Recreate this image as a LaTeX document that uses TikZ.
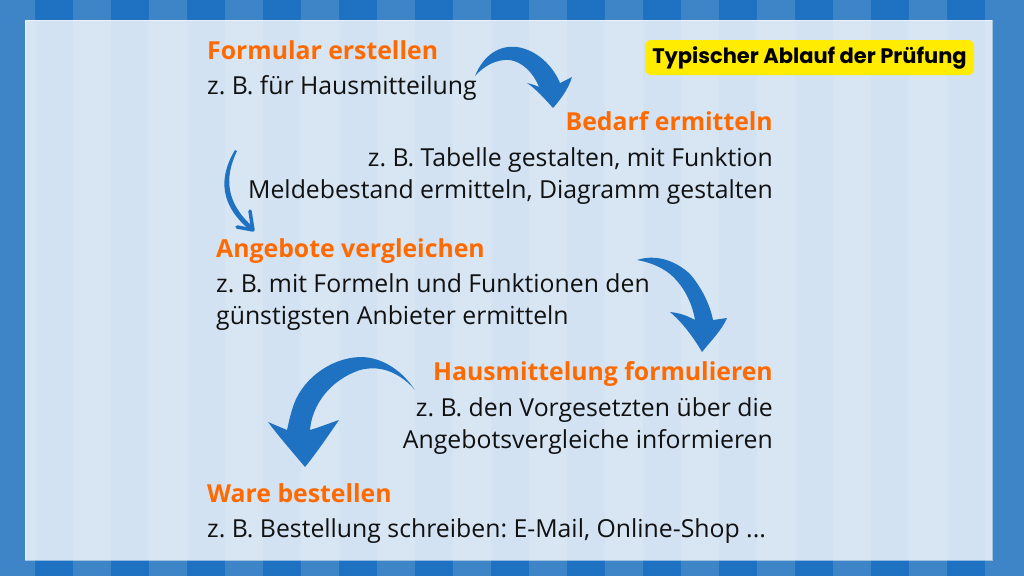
\documentclass[tikz,border=0pt]{standalone}
\usepackage{fontspec}
\setmainfont{Open Sans}
\newfontfamily\tagfont{Poppins}
\frenchspacing
\definecolor{stripeL}{HTML}{3D85C6}
\definecolor{stripeD}{HTML}{1F71C1}
\definecolor{headO}{HTML}{FF6A00}
\definecolor{arrowB}{HTML}{1F72C2}
\definecolor{tagY}{HTML}{FFEC00}
\definecolor{textK}{HTML}{111111}
\tikzset{
  head/.style={font=\fontsize{24.8}{28}\selectfont\bfseries, text=headO, inner sep=0pt},
  body/.style={font=\fontsize{24.8}{32}\selectfont, text=textK, inner sep=0pt},
  bigarrow/.style={fill=arrowB, draw=none},
  thinarrow/.style={draw=arrowB, line width=3.5pt, line cap=round, line join=round},
}
\begin{document}
\begin{tikzpicture}[x=1pt,y=-1pt]
\useasboundingbox (0,0) rectangle (1024,576);
% striped background
\fill[stripeL] (0,0) rectangle (1024,576);
\foreach \i in {0,...,12} {
  \fill[stripeD] ({35+76*\i},0) rectangle ({73+76*\i},576);
}
% panel
\fill[white, fill opacity=0.8] (25,20) rectangle (992,560);
\draw[white, opacity=0.5, line width=1pt] (25,20) rectangle (992,560);

% tag
\node[fill=tagY, rounded corners=6pt, minimum width=329pt, minimum height=35pt, inner sep=0pt,
      font=\tagfont\fontsize{21}{24}\selectfont\bfseries, text=black] (tag) at (809.5,57.5) {Typischer Ablauf der Prüfung};

% texts
\node[head, anchor=base west] (h1) at (207,59) {Formular erstellen};
\node[body, anchor=base west] (b1) at (207,94) {z. B. für Hausmitteilung};

\node[head, anchor=base east] (h2) at (773,130) {Bedarf ermitteln};
\node[body, anchor=base east] (b2a) at (773,166) {z. B. Tabelle gestalten, mit Funktion};
\node[body, anchor=base east] (b2b) at (773,198) {Meldebestand ermitteln, Diagramm gestalten};

\node[head, anchor=base west] (h3) at (216,257) {Angebote vergleichen};
\node[body, anchor=base west] (b3a) at (216,292) {z. B. mit Formeln und Funktionen den};
\node[body, anchor=base west] (b3b) at (216,324) {günstigsten Anbieter ermitteln};

\node[head, anchor=base east] (h4) at (773,380) {Hausmittelung formulieren};
\node[body, anchor=base east] (b4a) at (773,416) {z. B. den Vorgesetzten über die};
\node[body, anchor=base east] (b4b) at (773,448) {Angebotsvergleiche informieren};

\node[head, anchor=base west] (h5) at (207,502) {Ware bestellen};
\node[body, anchor=base west] (b5) at (207,537) {z. B. Bestellung schreiben: E-Mail, Online-Shop ...};

% arrow 1
\fill[bigarrow] (475,76) .. controls (484,54) and (500,45) .. (517,47)
  .. controls (537,50) and (553,66) .. (560,83) -- (572,77)
  .. controls (568,90) and (560,100) .. (553,108)
  .. controls (545,99) and (536,89) .. (527,83)
  .. controls (531,84) and (535,85) .. (539,87)
  .. controls (533,72) and (522,62) .. (510,60)
  .. controls (496,59) and (484,66) .. cycle;
% arrow 2 (thin)
\fill[arrowB] (235,150) .. controls (218,178) and (220,206) .. (251,231)
  -- (253,227) .. controls (226,203) and (224,178) .. (237,151) -- cycle;
\draw[thinarrow] (250,211) .. controls (251,218) and (252,224) .. (253,230)
  .. controls (248,229) and (242,228) .. (237,227);
% arrow 3
\fill[bigarrow] (637,260) .. controls (655,254) and (675,260) .. (690,274)
  .. controls (702,288) and (710,305) .. (713,320) -- (727,318)
  .. controls (722,330) and (710,342) .. (702,352)
  .. controls (694,338) and (682,322) .. (670,312)
  .. controls (680,313) and (688,316) .. (695,320)
  .. controls (692,302) and (683,285) .. (670,274)
  .. controls (660,266) and (648,262) .. cycle;
% arrow 4
\fill[bigarrow] (415,390) .. controls (400,368) and (380,357) .. (360,357)
  .. controls (330,358) and (300,380) .. (292,410)
  .. controls (289,420) and (288,426) .. (287,430) -- (268,422)
  .. controls (280,438) and (295,455) .. (305,467)
  .. controls (315,455) and (328,436) .. (339,420)
  .. controls (330,423) and (320,427) .. (310,430)
  .. controls (312,405) and (330,380) .. (360,370)
  .. controls (383,364) and (402,375) .. cycle;
\end{tikzpicture}
\end{document}
